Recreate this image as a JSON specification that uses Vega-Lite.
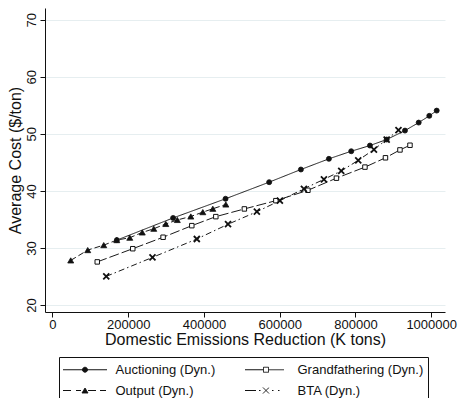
{
  "$schema": "https://vega.github.io/schema/vega-lite/v6.json",
  "width": 400,
  "height": 304,
  "autosize": {"type": "none"},
  "padding": {"left": 45, "top": 8, "right": 13, "bottom": 86},
  "background": "white",
  "config": {
    "view": {"stroke": null},
    "font": "Liberation Sans",
    "axis": {
      "domainColor": "#111",
      "domainWidth": 1,
      "tickColor": "#111",
      "tickSize": 5,
      "tickWidth": 1,
      "labelFont": "Liberation Sans",
      "labelFontSize": 13,
      "labelColor": "#111",
      "titleFont": "Liberation Sans",
      "titleFontSize": 16,
      "titleFontWeight": "normal",
      "titleColor": "#111",
      "labelOverlap": false,
      "labelFlush": false
    },
    "legend": {
      "labelFont": "Liberation Sans",
      "labelFontSize": 13,
      "labelColor": "#111"
    }
  },
  "data": {
    "values": [
      {"s": "Auctioning (Dyn.)", "x": 170150, "y": 31.38},
      {"s": "Auctioning (Dyn.)", "x": 318630, "y": 35.26},
      {"s": "Auctioning (Dyn.)", "x": 457070, "y": 38.62},
      {"s": "Auctioning (Dyn.)", "x": 572260, "y": 41.53},
      {"s": "Auctioning (Dyn.)", "x": 656010, "y": 43.75},
      {"s": "Auctioning (Dyn.)", "x": 729990, "y": 45.62},
      {"s": "Auctioning (Dyn.)", "x": 788900, "y": 46.95},
      {"s": "Auctioning (Dyn.)", "x": 838310, "y": 47.95},
      {"s": "Auctioning (Dyn.)", "x": 882430, "y": 49.0},
      {"s": "Auctioning (Dyn.)", "x": 930780, "y": 50.57},
      {"s": "Auctioning (Dyn.)", "x": 966970, "y": 51.97},
      {"s": "Auctioning (Dyn.)", "x": 994980, "y": 53.15},
      {"s": "Auctioning (Dyn.)", "x": 1014530, "y": 54.07},
      {"s": "Output (Dyn.)", "x": 48350, "y": 27.82},
      {"s": "Output (Dyn.)", "x": 93260, "y": 29.63},
      {"s": "Output (Dyn.)", "x": 135540, "y": 30.5},
      {"s": "Output (Dyn.)", "x": 169880, "y": 31.38},
      {"s": "Output (Dyn.)", "x": 204230, "y": 31.8},
      {"s": "Output (Dyn.)", "x": 237250, "y": 32.72},
      {"s": "Output (Dyn.)", "x": 267630, "y": 33.37},
      {"s": "Output (Dyn.)", "x": 299340, "y": 34.21},
      {"s": "Output (Dyn.)", "x": 329720, "y": 34.91},
      {"s": "Output (Dyn.)", "x": 365390, "y": 35.52},
      {"s": "Output (Dyn.)", "x": 397090, "y": 36.28},
      {"s": "Output (Dyn.)", "x": 423510, "y": 36.87},
      {"s": "Output (Dyn.)", "x": 457860, "y": 37.62},
      {"s": "Grandfathering (Dyn.)", "x": 118360, "y": 27.56},
      {"s": "Grandfathering (Dyn.)", "x": 212150, "y": 29.87},
      {"s": "Grandfathering (Dyn.)", "x": 292210, "y": 31.88},
      {"s": "Grandfathering (Dyn.)", "x": 368030, "y": 33.91},
      {"s": "Grandfathering (Dyn.)", "x": 431440, "y": 35.49},
      {"s": "Grandfathering (Dyn.)", "x": 506740, "y": 36.84},
      {"s": "Grandfathering (Dyn.)", "x": 589960, "y": 38.29},
      {"s": "Grandfathering (Dyn.)", "x": 674510, "y": 40.11},
      {"s": "Grandfathering (Dyn.)", "x": 749800, "y": 42.23},
      {"s": "Grandfathering (Dyn.)", "x": 825100, "y": 44.17},
      {"s": "Grandfathering (Dyn.)", "x": 879260, "y": 45.8},
      {"s": "Grandfathering (Dyn.)", "x": 917570, "y": 47.18},
      {"s": "Grandfathering (Dyn.)", "x": 943990, "y": 48.0},
      {"s": "BTA (Dyn.)", "x": 142140, "y": 25.02},
      {"s": "BTA (Dyn.)", "x": 264200, "y": 28.35},
      {"s": "BTA (Dyn.)", "x": 381240, "y": 31.57},
      {"s": "BTA (Dyn.)", "x": 463670, "y": 34.16},
      {"s": "BTA (Dyn.)", "x": 539760, "y": 36.35},
      {"s": "BTA (Dyn.)", "x": 600530, "y": 38.29},
      {"s": "BTA (Dyn.)", "x": 663940, "y": 40.37},
      {"s": "BTA (Dyn.)", "x": 716780, "y": 42.03},
      {"s": "BTA (Dyn.)", "x": 762480, "y": 43.49},
      {"s": "BTA (Dyn.)", "x": 807400, "y": 45.36},
      {"s": "BTA (Dyn.)", "x": 848880, "y": 47.25},
      {"s": "BTA (Dyn.)", "x": 882430, "y": 49.0},
      {"s": "BTA (Dyn.)", "x": 913610, "y": 50.64}
    ]
  },
  "encoding": {
    "x": {
      "field": "x",
      "type": "quantitative",
      "scale": {"domain": [-19550, 1036450], "nice": false, "zero": false},
      "axis": {
        "title": "Domestic Emissions Reduction (K tons)",
        "values": [0, 200000, 400000, 600000, 800000, 1000000],
        "format": "d",
        "grid": false,
        "labelPadding": 1.5,
        "titlePadding": 0
      }
    },
    "y": {
      "field": "y",
      "type": "quantitative",
      "scale": {"domain": [18.78, 72.05], "nice": false, "zero": false},
      "axis": {
        "title": "Average Cost ($/ton)",
        "values": [20, 30, 40, 50, 60, 70],
        "grid": true,
        "gridColor": "#e6eef0",
        "gridWidth": 1,
        "labelAngle": -90,
        "labelAlign": "center",
        "labelBaseline": "alphabetic",
        "labelPadding": 5,
        "titlePadding": 2
      }
    }
  },
  "layer": [
    {
      "mark": {"type": "line", "color": "#1a1a1a", "strokeWidth": 1},
      "encoding": {
        "strokeDash": {
          "field": "s",
          "type": "nominal",
          "legend": null,
          "scale": {
            "range": [[1, 0], [6, 3, 1.5, 3], [10, 3], [6, 3]]
          }
        }
      }
    },
    {
      "mark": {"type": "point", "stroke": "#111", "opacity": 1},
      "encoding": {
        "shape": {
          "field": "s",
          "type": "nominal",
          "legend": null,
          "scale": {
            "range": ["circle", "M-1,-1L1,1M1,-1L-1,1", "square", "triangle-up"]
          }
        },
        "fill": {
          "field": "s",
          "type": "nominal",
          "scale": {
            "domain": ["Auctioning (Dyn.)", "Grandfathering (Dyn.)", "Output (Dyn.)", "BTA (Dyn.)"],
            "range": ["#111", "white", "#111", "transparent"]
          },
          "legend": {
            "title": null,
            "orient": "none",
            "legendX": 14,
            "legendY": 349,
            "columns": 2,
            "direction": "horizontal",
            "columnPadding": 27,
            "rowPadding": 5,
            "padding": 4,
            "strokeColor": "#111",
            "fillColor": "white",
            "symbolSize": 256,
            "symbolStrokeWidth": 1,
            "symbolStrokeColor": "#111",
            "symbolOpacity": 1,
            "symbolType": "M-1.0625,0H4.4375M1.375,0A0.3125,0.3125 0 1,1 2,0A0.3125,0.3125 0 1,1 1.375,0Z",
            "labelOffset": 35.5,
            "encoding": {
              "symbols": {
                "shape": {
                  "condition": [
                    {"test": "datum.value === 'Auctioning (Dyn.)'", "value": "M-1.0625,0H4.4375M1.375,0A0.3125,0.3125 0 1,1 2,0A0.3125,0.3125 0 1,1 1.375,0Z"},
                    {"test": "datum.value === 'Output (Dyn.)'", "value": "M-1.0625,0H-0.0625M0.5625,0H1.1875M2.0625,0H3.0625M3.5625,0H4.3125M1.3125,0.3125L1.6875,-0.3125L2.0625,0.3125Z"},
                    {"test": "datum.value === 'Grandfathering (Dyn.)'", "value": "M-1.0625,0H1.25M1.875,0H3.8125M1.25,-0.3125H1.875V0.3125H1.25Z"}
                  ],
                  "value": "M-1.0625,0H0.3125M0.6875,0H0.875M2.3125,0H2.5M3.0625,0H3.25M1.1875,-0.375L1.9375,0.375M1.1875,0.375L1.9375,-0.375"
                },
                "fill": {
                  "condition": [
                    {"test": "datum.value === 'Grandfathering (Dyn.)'", "value": "white"},
                    {"test": "datum.value === 'BTA (Dyn.)'", "value": "transparent"}
                  ],
                  "value": "#111"
                },
                "stroke": {"value": "#111"},
                "strokeDash": {"value": [1, 0]},
                "opacity": {"value": 1}
              }
            }
          }
        },
        "size": {
          "field": "s",
          "type": "nominal",
          "legend": null,
          "scale": {
            "type": "ordinal",
            "range": [25, 36, 20, 36]
          }
        },
        "strokeWidth": {
          "field": "s",
          "type": "nominal",
          "legend": null,
          "scale": {
            "type": "ordinal",
            "range": [0.8, 1.8, 1, 0.8]
          }
        }
      }
    }
  ]
}
